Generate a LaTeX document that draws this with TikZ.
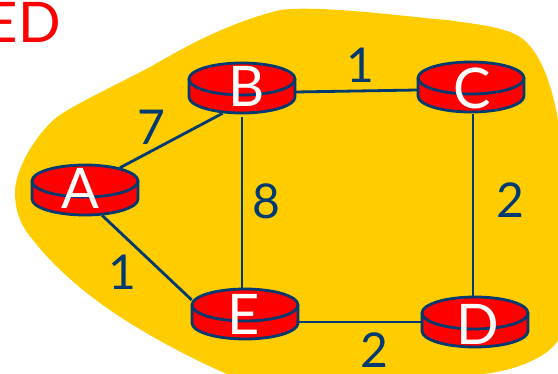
\documentclass[tikz,border=0pt]{standalone}
\usepackage{fontspec}
\setmainfont{Lato}
\definecolor{blob}{HTML}{FFCC00}
\definecolor{navy}{HTML}{003A70}
\tikzset{
  x=0.75pt,y=-0.75pt,
  link/.style={draw=navy,line width=2.1pt},
  routerlabel/.style={text=white,font=\fontsize{42}{42}\selectfont,inner sep=0pt},
  weight/.style={text=navy,font=\fontsize{36}{36}\selectfont,inner sep=0pt},
  anchorbox/.style={minimum width=79.5pt,minimum height=37.5pt,inner sep=0pt}
}
% #1,#2 centre of top ellipse, #3 name, #4 letter, #5,#6 letter centre
\newcommand{\router}[6]{%
  \fill[red] (#1-53,#2) -- (#1-53,#2+18) arc[start angle=180,end angle=360,x radius=39.75pt,y radius=12pt] -- (#1+53,#2) -- cycle;
  \draw[navy,line width=2.1pt,line join=round] (#1-53,#2) -- (#1-53,#2+18) arc[start angle=180,end angle=360,x radius=39.75pt,y radius=12pt] -- (#1+53,#2);
  \draw[navy,line width=2.1pt,fill=red] (#1,#2) ellipse[x radius=39.75pt,y radius=12pt];
  \node[anchorbox] (#3) at (#1,#2+9) {};
  \node[routerlabel] (#3label) at (#5,#6) {#4};
}
\begin{document}
\begin{tikzpicture}
\useasboundingbox (0,0) rectangle (558,374);
\clip (0,0) rectangle (558,374);
\fill[blob] (15,192) .. controls (15,170) and (35,135) .. (57,117)
  .. controls (75,104) and (120,83) .. (150,67)
  .. controls (185,47) and (225,24) .. (280,10)
  .. controls (320,5) and (400,16) .. (447,20)
  .. controls (475,24) and (505,27) .. (520,37)
  .. controls (540,50) and (552,85) .. (558,120)
  -- (558,340) .. controls (550,355) and (520,370) .. (483,374)
  -- (227,374) .. controls (190,358) and (140,332) .. (100,303)
  .. controls (75,285) and (50,262) .. (33,240)
  .. controls (20,225) and (15,210) .. (15,192) -- cycle;
\node[text=red,font=\fontsize{42}{42}\selectfont,inner sep=0pt,anchor=east] (title) at (61,22) {ED};
\router{85}{181}{A}{A}{80}{188}
\router{242}{79}{B}{B}{247}{86}
\router{471}{78}{C}{C}{472}{88}
\router{245}{305}{E}{E}{244}{314}
\router{475}{313}{D}{D}{478}{324}
\draw[link] ([xshift=26.25pt,yshift=-2.25pt]A.north) -- ([xshift=-14.5pt]B.south);
\draw[link] ([yshift=-3pt]B.east) -- ([yshift=-2.25pt]C.west);
\draw[link] ([yshift=-3pt]B.south) -- ([xshift=-2.25pt]E.north);
\draw[link] ([xshift=1.5pt,yshift=-1.5pt]C.south) -- ([xshift=-1.5pt]D.north);
\draw[link] ([yshift=-6pt]E.east) -- (D.west);
\draw[link] ([xshift=12.75pt]A.south) -- ([yshift=10.5pt]E.west);
\node[weight] (w7) at (151,127) {7};
\node[weight] (w1a) at (360,65) {1};
\node[weight] (w8) at (266,201) {8};
\node[weight] (w2c) at (510,200) {2};
\node[weight] (w1b) at (122,272) {1};
\node[weight] (w2d) at (374,350) {2};
\end{tikzpicture}
\end{document}
